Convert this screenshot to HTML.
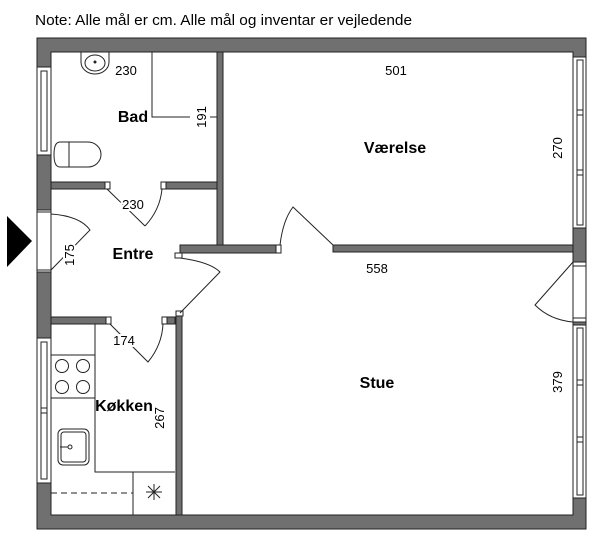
<!DOCTYPE html>
<html><head><meta charset="utf-8"><style>
html,body{margin:0;padding:0;background:#fff;width:600px;height:543px;overflow:hidden}
svg{display:block}
text{font-family:"Liberation Sans",sans-serif;fill:#000}
</style></head><body>
<svg width="600" height="543" viewBox="0 0 600 543" xmlns="http://www.w3.org/2000/svg">
<text x="35" y="25" font-size="15" textLength="377" lengthAdjust="spacingAndGlyphs">Note: Alle mål er cm. Alle mål og inventar er vejledende</text>
<g fill="#707070" stroke="#222" stroke-width="1">
<path d="M37,38 H586 V529 H37 Z M51,52 V515 H573 V52 Z" fill-rule="evenodd"/>
<rect x="217" y="52" width="6" height="193"/>
<rect x="51" y="182" width="54" height="7"/>
<rect x="165" y="182" width="52" height="7"/>
<rect x="180" y="245" width="97" height="8"/>
<rect x="333" y="245" width="240" height="7"/>
<rect x="51" y="317" width="55" height="7"/>
<rect x="165" y="317" width="10" height="7"/>
<rect x="176" y="316" width="6" height="199"/>
</g>
<g fill="#fff" stroke="#222" stroke-width="1">
<rect x="105" y="182" width="5" height="7"/>
<rect x="161" y="182" width="5" height="7"/>
<rect x="175" y="253" width="7" height="5"/>
<rect x="176" y="311" width="7" height="5"/>
<rect x="276" y="245" width="5" height="8"/>
<rect x="106" y="317" width="5" height="7"/>
<rect x="162" y="317" width="5" height="7"/>
</g>
<g fill="#fff" stroke="#222" stroke-width="1">
<rect x="37" y="67" width="14" height="88"/>
<rect x="41" y="71" width="6" height="80"/>
<rect x="37" y="210" width="14" height="62"/>
<line x1="37" y1="212" x2="51" y2="212"/><line x1="37" y1="270" x2="51" y2="270"/>
<rect x="37" y="338" width="14" height="145"/>
<rect x="41" y="342" width="6" height="137"/>
<line x1="41" y1="408" x2="47" y2="408"/><line x1="41" y1="413" x2="47" y2="413"/>
<rect x="573" y="57" width="13" height="171"/>
<rect x="577" y="60" width="6" height="165"/>
<line x1="577" y1="110" x2="583" y2="110"/><line x1="577" y1="115" x2="583" y2="115"/>
<line x1="577" y1="170" x2="583" y2="170"/><line x1="577" y1="175" x2="583" y2="175"/>
<rect x="573" y="262" width="13" height="60"/>
<line x1="573" y1="266" x2="586" y2="266"/><line x1="573" y1="318" x2="586" y2="318"/>
<rect x="573" y="325" width="13" height="173"/>
<rect x="577" y="328" width="6" height="167"/>
<line x1="577" y1="380" x2="583" y2="380"/><line x1="577" y1="385" x2="583" y2="385"/>
<line x1="577" y1="437" x2="583" y2="437"/><line x1="577" y1="442" x2="583" y2="442"/>
</g>
<polygon points="7,216 32,241 7,267" fill="#000"/>
<g fill="none" stroke="#222" stroke-width="1">
<path d="M107,189 L145,226 M145,226 Q160,210 162,189"/>
<path d="M51,214 Q80,216 90,230 L51,270"/>
<path d="M180,258 Q210,262 220,272 L180,313"/>
<path d="M333,245 L293,207 Q283,220 280,245"/>
<path d="M573,262 L535,305 Q550,320 573,322"/>
<path d="M110,324 L148,362 Q162,345 163,324"/>
<path d="M152,52 V117 H190 M210,117 H217"/>
<path d="M95,324 V472 H175 M133,472 V515 M51,355 H95 M51,398 H95"/>
<path d="M51,493 H133" stroke-dasharray="6,4"/>
<path d="M154,484 V500 M146,492 H162 M148,486 L160,498 M160,486 L148,498"/>
<circle cx="62" cy="366" r="6.5"/><circle cx="83" cy="366" r="6.5"/>
<circle cx="62" cy="387" r="6.5"/><circle cx="83" cy="387" r="6.5"/>
<rect x="58" y="429" width="31" height="36" rx="5"/>
<rect x="61" y="432" width="25" height="30" rx="3"/>
<circle cx="70" cy="447" r="2"/><path d="M60,447 H68"/>
<path d="M60,142 H88 A13,12.5 0 0 1 88,167 H60 Q54,167 54,154.5 Q54,142 60,142 Z"/>
<line x1="69" y1="142" x2="69" y2="167"/>
<path d="M81,52 V62 A14,12 0 0 0 109,62 V52"/>
<ellipse cx="95" cy="63" rx="10" ry="8"/>
<circle cx="95" cy="62" r="1" fill="#222"/>
</g>
<g font-size="13">
<text x="126" y="75" text-anchor="middle">230</text>
<text x="396" y="75" text-anchor="middle">501</text>
<text x="133" y="209" text-anchor="middle" style="paint-order:stroke" stroke="#fff" stroke-width="4">230</text>
<text x="377" y="273" text-anchor="middle">558</text>
<text x="124" y="345" text-anchor="middle" style="paint-order:stroke" stroke="#fff" stroke-width="4">174</text>
<text transform="translate(206,117) rotate(-90)" text-anchor="middle">191</text>
<text transform="translate(562,148) rotate(-90)" text-anchor="middle">270</text>
<text transform="translate(562,382) rotate(-90)" text-anchor="middle">379</text>
<text transform="translate(74,255) rotate(-90)" text-anchor="middle" style="paint-order:stroke" stroke="#fff" stroke-width="4">175</text>
<text transform="translate(164,418) rotate(-90)" text-anchor="middle">267</text>
</g>
<g font-size="16" font-weight="bold">
<text x="133" y="122" text-anchor="middle">Bad</text>
<text x="395" y="153" text-anchor="middle">Værelse</text>
<text x="133" y="259" text-anchor="middle">Entre</text>
<text x="377" y="388" text-anchor="middle">Stue</text>
<text x="124" y="411" text-anchor="middle">Køkken</text>
</g>
</svg>
</body></html>
